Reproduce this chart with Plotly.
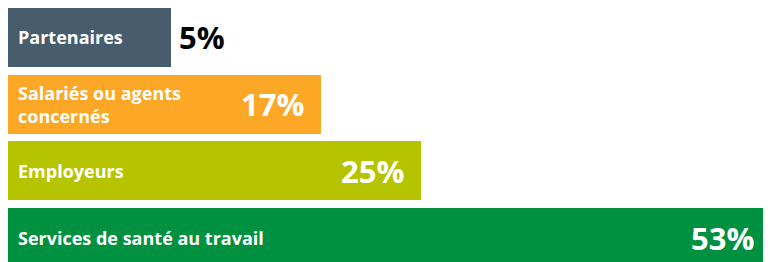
import plotly.graph_objects as go

categories = ["Partenaires", "Salariés ou agents<br>concernés", "Employeurs", "Services de santé au travail"]
values = [5, 17, 25, 53]
value_labels = ["5%", "17%", "25%", "53%"]
colors = ["#475c6c", "#fda726", "#b6c400", "#009140"]

offset = 8  # bars start left of zero so short bars can hold their labels
ypos = list(range(len(categories)))

fig = go.Figure()
fig.add_trace(go.Bar(
    y=ypos,
    x=[v + offset for v in values],
    base=[-offset] * len(values),
    orientation="h",
    width=0.885,
    marker=dict(color=colors, line=dict(width=0)),
    hoverinfo="skip",
))

annotations = []
for i, (cat, v, lab) in enumerate(zip(categories, values, value_labels)):
    annotations.append(dict(
        x=-offset, y=i, xref="x", yref="y", text=cat, showarrow=False,
        xanchor="left", yanchor="middle", xshift=8, align="left",
        font=dict(family="Open Sans", size=18, color="white", weight="bold"),
    ))
    inside = v >= 10
    annotations.append(dict(
        x=v, y=i, xref="x", yref="y", text=lab, showarrow=False,
        xanchor="right" if inside else "left", yanchor="middle",
        xshift=-15 if inside else 6,
        font=dict(family="Open Sans", size=31, color="white" if inside else "black", weight="bold"),
    ))

fig.update_layout(
    width=763, height=254,
    margin=dict(l=0, r=0, t=0, b=0),
    paper_bgcolor="white", plot_bgcolor="white",
    showlegend=False,
    bargap=0,
    xaxis=dict(range=[-offset, max(values)], visible=False, fixedrange=True),
    yaxis=dict(range=[3.366, -0.442], visible=False, fixedrange=True),
    annotations=annotations,
)

fig.write_html("out.html", config={"displayModeBar": False})
